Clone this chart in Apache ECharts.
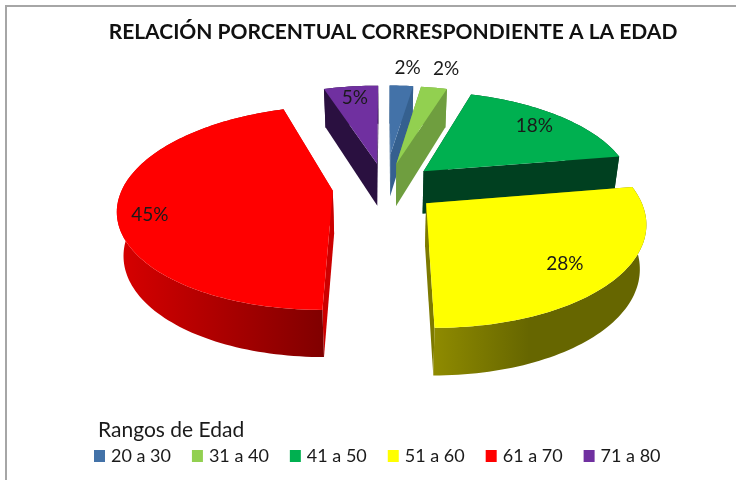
<!DOCTYPE html>
<html><head><meta charset="utf-8">
<style>html,body{margin:0;padding:0;background:#fff}#c{width:736px;height:480px}</style>
<script src="https://cdn.jsdelivr.net/npm/echarts@6/dist/echarts.min.js"></script>
</head><body><div id="c"></div>
<script>
const categories = ['20 a 30','31 a 40','41 a 50','51 a 60','61 a 70','71 a 80'];
// shares; the printed labels are these rounded
const percentages = [2.4,2.4,17.6,27.6,45,5];
const chartTitle = 'RELACIÓN PORCENTUAL CORRESPONDIENTE A LA EDAD';
const legendTitle = 'Rangos de Edad';

// slice styles and per-slice explosion
const topColors  = ['#4372a8','#92d050','#00b050','#ffff00','#ff0000','#7030a0'];
const cutColors  = ['#35608f','#6f9e3f','#004020','#7d7a00','#cc0000','#2a1040'];
const sideFrom   = ['#35608f','#6f9e3f','#004020','#8f8b00','#d80000','#2a1040'];
const sideTo     = ['#35608f','#6f9e3f','#004020','#666600','#800000','#2a1040'];
const sideStop   = [1,1,1,0.45,1,1];
const explodeBy  = [1.4,1,1,1,1,1];
const radiusBy   = [0.9,1,1,1,1,1];
const paintOrder = [2,3,1,6,5,0];
const labelRadius= [1.17,1.3,0.8,0.78,0.854,0.83];
const labelTurn  = [1,0.7,0,3,-6.5,0];

// perspective model of the tilted disc
const CX=385, CY=187, A=210, B=98, K=0.165, EXPLODE=0.25, BOTTOM_SCALE=0.975;
function project(u,v){const w=1+K*v;return [CX+A*u/w, CY-B*v/w];}
function depth(v){return 43-4*v;}
const total = percentages.reduce((a,b)=>a+b,0);
function startAngle(i){let s=0;for(let j=0;j<i;j++)s+=percentages[j];return s/total*2*Math.PI;}

function renderSlice(i){
  return function(params,api){
    const val=api.value(0);
    const a0=startAngle(i), a1=a0+val/total*2*Math.PI, mid=(a0+a1)/2;
    const ox=EXPLODE*explodeBy[i]*Math.sin(mid), oy=EXPLODE*explodeBy[i]*Math.cos(mid);
    const r=radiusBy[i];
    const gp=(rad,ang)=>({u:ox+rad*Math.sin(ang),v:oy+rad*Math.cos(ang)});
    const top=p=>project(p.u,p.v);
    const bot=p=>{const q=project(p.u,p.v);return [CX+(q[0]-CX)*BOTTOM_SCALE,q[1]+depth(p.v)];};
    const arc=[];const n=Math.max(6,Math.ceil((a1-a0)*40));
    for(let k=0;k<=n;k++)arc.push(gp(r,a0+(a1-a0)*k/n));
    const c=gp(0,0);
    const kids=[];
    const poly=(pts,fill)=>kids.push({type:'polygon',shape:{points:pts},style:{fill,stroke:null}});
    poly([top(c),top(arc[0]),bot(arc[0]),bot(c)],cutColors[i]);
    poly([top(c),top(arc[n]),bot(arc[n]),bot(c)],cutColors[i]);
    poly(arc.map(top).concat(arc.slice().reverse().map(bot)),
      new echarts.graphic.LinearGradient(0,0,1,0,[{offset:0,color:sideFrom[i]},{offset:sideStop[i],color:sideTo[i]},{offset:1,color:sideTo[i]}]));
    poly([top(c)].concat(arc.map(top)),topColors[i]);
    const la=mid+labelTurn[i]*Math.PI/180;
    const lp=top(gp(labelRadius[i],la));
    kids.push({type:'text',x:lp[0],y:lp[1],style:{text:Math.round(val)+'%',fill:'#1a1a1a',font:'19px Lato',align:'center',verticalAlign:'middle'}});
    return {type:'group',children:kids};
  };
}

const chart=echarts.init(document.getElementById('c'),null,{renderer:'canvas'});
chart.setOption({
  animation:false,
  backgroundColor:'#ffffff',
  color:topColors,
  title:[
    {text:chartTitle,left:388,top:17,textAlign:'center',textStyle:{fontFamily:'Lato',fontSize:21,fontWeight:'bold',color:'#111'}},
    {text:legendTitle,left:98,top:420,padding:0,textStyle:{fontFamily:'Lato',fontSize:21,fontWeight:'normal',color:'#1a1a1a'}}
  ],
  legend:{left:94,top:447,padding:0,itemWidth:11,itemHeight:12,itemGap:21,icon:'rect',
    textStyle:{fontFamily:'Lato',fontSize:18,color:'#1a1a1a',padding:[0,0,0,1]},data:categories},
  graphic:[{type:'polyline',shape:{points:[[6,480],[6,6],[736,6]]},style:{stroke:'#a6a6a6',lineWidth:2,fill:null},silent:true}],
  series:categories.map((name,i)=>({
    type:'custom',name,coordinateSystem:'none',z:2+paintOrder[i],silent:true,
    itemStyle:{color:topColors[i]},
    renderItem:renderSlice(i),data:[[percentages[i]]]
  }))
});
</script></body></html>
